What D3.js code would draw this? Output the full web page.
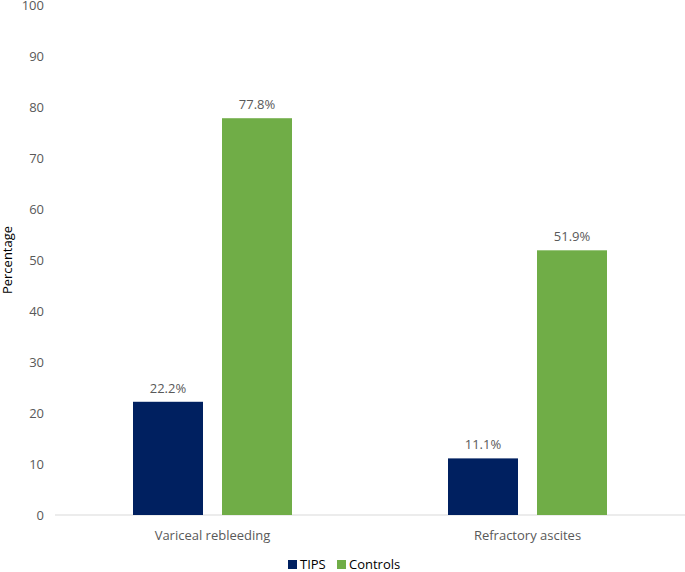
<!DOCTYPE html>
<html>
<head>
<meta charset="utf-8">
<script src="https://cdn.jsdelivr.net/npm/d3@7"></script>
<style>
  body { margin: 0; background: #fff; }
  svg text { font-family: "Open Sans", "Liberation Sans", sans-serif; fill: #595959; }
</style>
</head>
<body>
<div id="chart"></div>
<script>
// data
const categories = ["Variceal rebleeding", "Refractory ascites"];
const series = ["TIPS", "Controls"];
const tipsValues = [22.2, 11.1];
const controlValues = [77.8, 51.9];
const yTicks = [0, 10, 20, 30, 40, 50, 60, 70, 80, 90, 100];

const colors = { TIPS: "#002060", Controls: "#70AD47" };

const width = 685;
const height = 572;
const margin = { left: 55, right: 0, top: 5, bottom: 57 };

const svg = d3.select("#chart")
  .append("svg")
  .attr("width", width)
  .attr("height", height);

// scales
const x0 = d3.scaleBand()
  .domain(categories)
  .range([margin.left, width - margin.right]);

const x1 = d3.scaleBand()
  .domain(series)
  .range([0, 159])
  .paddingInner(0.2135);

const y = d3.scaleLinear()
  .domain([0, 100])
  .range([height - margin.bottom, margin.top]);

const rows = categories.map((c, i) => ({
  category: c,
  values: [
    { key: "TIPS", value: tipsValues[i] },
    { key: "Controls", value: controlValues[i] }
  ]
}));

const groupOffset = (x0.bandwidth() - 159) / 2;

// y axis labels
const yAxis = svg.append("g")
  .attr("transform", "translate(" + 44 + ",0)")
  .call(d3.axisLeft(y).tickValues(yTicks).tickSize(0).tickPadding(0));
yAxis.select(".domain").remove();
yAxis.selectAll("text")
  .style("font-size", "13px")
  .attr("fill", "#595959");

// baseline
svg.append("line")
  .attr("x1", margin.left)
  .attr("x2", width - margin.right)
  .attr("y1", y(0))
  .attr("y2", y(0))
  .attr("stroke", "#d9d9d9")
  .attr("stroke-width", 1);

// bars
const groups = svg.selectAll("g.group")
  .data(rows)
  .enter()
  .append("g")
  .attr("class", "group")
  .attr("transform", d => "translate(" + (x0(d.category) + groupOffset) + ",0)");

groups.selectAll("rect")
  .data(d => d.values)
  .enter()
  .append("rect")
  .attr("x", d => x1(d.key))
  .attr("y", d => y(d.value))
  .attr("width", x1.bandwidth())
  .attr("height", d => y(0) - y(d.value))
  .attr("fill", d => colors[d.key]);

groups.selectAll("text.value")
  .data(d => d.values)
  .enter()
  .append("text")
  .attr("class", "value")
  .attr("x", d => x1(d.key) + x1.bandwidth() / 2)
  .attr("y", d => y(d.value) - 9)
  .attr("text-anchor", "middle")
  .style("font-size", "13px")
  .text(d => d.value.toFixed(1) + "%");

// category labels
svg.selectAll("text.cat")
  .data(categories)
  .enter()
  .append("text")
  .attr("class", "cat")
  .attr("x", d => x0(d) + x0.bandwidth() / 2)
  .attr("y", 540)
  .attr("text-anchor", "middle")
  .style("font-size", "13px")
  .text(d => d);

// y axis title
svg.append("text")
  .attr("transform", "translate(12," + 260 + ") rotate(-90)")
  .attr("text-anchor", "middle")
  .style("font-size", "13px")
  .attr("fill", "#000")
  .style("fill", "#000")
  .text("Percentage");

// legend
const legend = svg.append("g").attr("transform", "translate(288,560)");
const legendX = [0, 49];
series.forEach((s, i) => {
  legend.append("rect")
    .attr("x", legendX[i])
    .attr("y", 0)
    .attr("width", 9)
    .attr("height", 9)
    .attr("fill", colors[s]);
  legend.append("text")
    .attr("x", legendX[i] + 12)
    .attr("y", 9)
    .style("font-size", "13px")
    .style("fill", "#000")
    .text(s);
});
</script>
</body>
</html>
